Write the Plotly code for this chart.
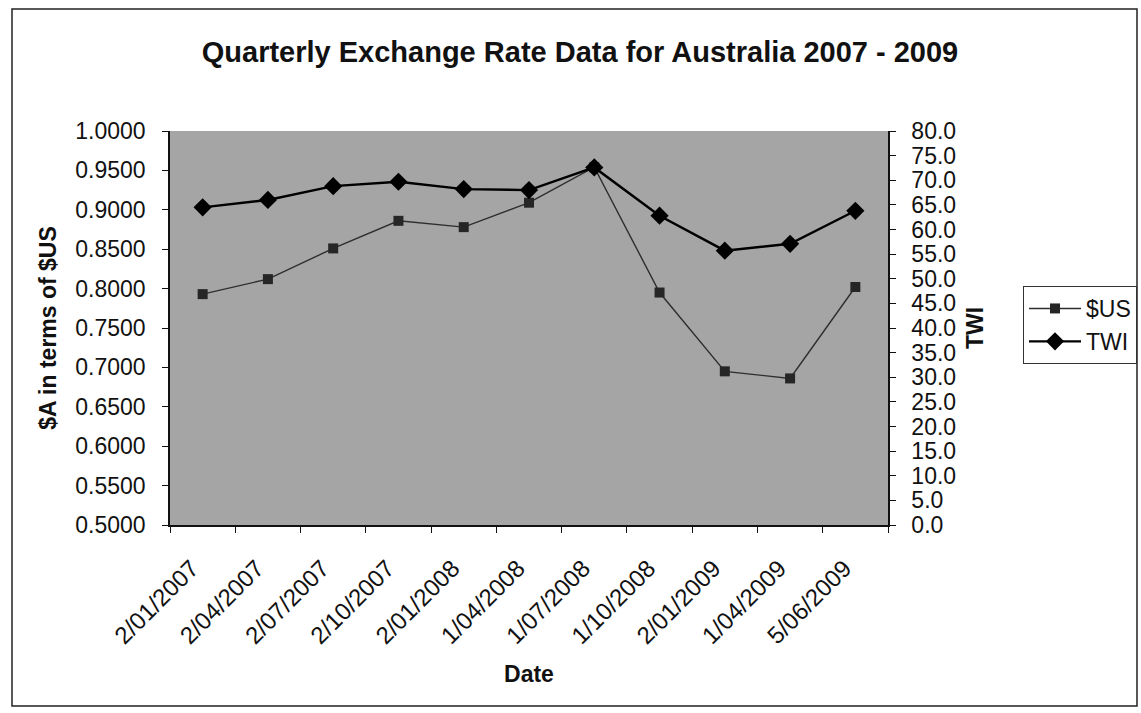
import plotly.graph_objects as go

# Quarterly observation dates (d/mm/yyyy)
dates = ["2/01/2007", "2/04/2007", "2/07/2007", "2/10/2007", "2/01/2008",
         "1/04/2008", "1/07/2008", "1/10/2008", "2/01/2009", "1/04/2009",
         "5/06/2009"]

# $A in terms of $US
usd = [0.793, 0.812, 0.851, 0.886, 0.878, 0.909, 0.954, 0.795, 0.695, 0.686, 0.802]

# Trade-weighted index
twi = [64.5, 66.0, 68.8, 69.7, 68.2, 68.0, 72.6, 62.8, 55.7, 57.1, 63.8]

usd_ticks = [0.50 + 0.05 * i for i in range(11)]
twi_ticks = [5.0 * i for i in range(17)]

FONT = "Liberation Sans, Arial, sans-serif"
W, H = 1141, 713
L, R, T, B = 170, 888, 131, 525  # plot-area edges in pixels

fig = go.Figure()

fig.add_trace(go.Scatter(
    x=dates, y=usd, name="$US", mode="lines+markers",
    line=dict(color="#2e2e2e", width=1.4),
    marker=dict(symbol="square", size=10, color="#262626"),
    yaxis="y",
))
fig.add_trace(go.Scatter(
    x=dates, y=twi, name="TWI", mode="lines+markers",
    line=dict(color="#000000", width=2.4),
    marker=dict(symbol="diamond", size=14, color="#000000"),
    yaxis="y2",
))

axis_common = dict(
    ticks="outside", ticklen=6, tickcolor="#111", tickwidth=1.2,
    showline=True, linecolor="#111", linewidth=1.5,
    showgrid=False, zeroline=False, automargin=False,
)

fig.update_layout(
    width=W, height=H,
    margin=dict(l=L, r=W - R, t=T, b=H - B, autoexpand=False),
    paper_bgcolor="white",
    plot_bgcolor="#a5a5a5",
    font=dict(family=FONT, size=23, color="#111111"),
    title=dict(
        text="<b>Quarterly Exchange Rate Data for Australia 2007 - 2009</b>",
        xref="container", x=580 / W, xanchor="center",
        yref="container", y=1 - 52 / H, yanchor="middle",
        font=dict(family=FONT, size=29, color="#111111"),
    ),
    xaxis=dict(
        type="category",
        range=[-0.5, len(dates) - 0.5],
        tickangle=-45,
        tickson="boundaries",
        ticklabelstandoff=18,
        ticklabelshift=-11,
        tickfont=dict(family=FONT, size=24),
        title=dict(text="<b>Date</b>", font=dict(family=FONT, size=23), standoff=18),
        **axis_common,
    ),
    yaxis=dict(
        range=[0.5, 1.0],
        tickvals=usd_ticks,
        tickformat=".4f",
        ticklabelstandoff=12,
        tickfont=dict(family=FONT, size=23),
        title=dict(text="<b>$A in terms of $US</b>", font=dict(family=FONT, size=23), standoff=12),
        **axis_common,
    ),
    yaxis2=dict(
        range=[0, 80],
        tickvals=twi_ticks,
        tickformat=".1f",
        overlaying="y", side="right",
        ticklabelstandoff=11,
        tickfont=dict(family=FONT, size=23),
        title=dict(text="<b>TWI</b>", font=dict(family=FONT, size=23), standoff=12),
        **axis_common,
    ),
    legend=dict(
        x=(1023 - L) / (R - L), y=(B - 286) / (B - T),
        xanchor="left", yanchor="top",
        bgcolor="white", bordercolor="#333", borderwidth=1,
        font=dict(family=FONT, size=23),
        itemwidth=52,
        tracegroupgap=2,
    ),
    showlegend=True,
)

# Chart-area frame around the whole figure
fig.add_shape(
    type="rect", xref="paper", yref="paper",
    x0=(12 - L) / (R - L), x1=(1137 - L) / (R - L),
    y0=(B - 706) / (B - T), y1=(B - 9) / (B - T),
    line=dict(color="#222", width=1.5), fillcolor="rgba(0,0,0,0)",
    layer="below",
)

fig.write_html("out.html")
